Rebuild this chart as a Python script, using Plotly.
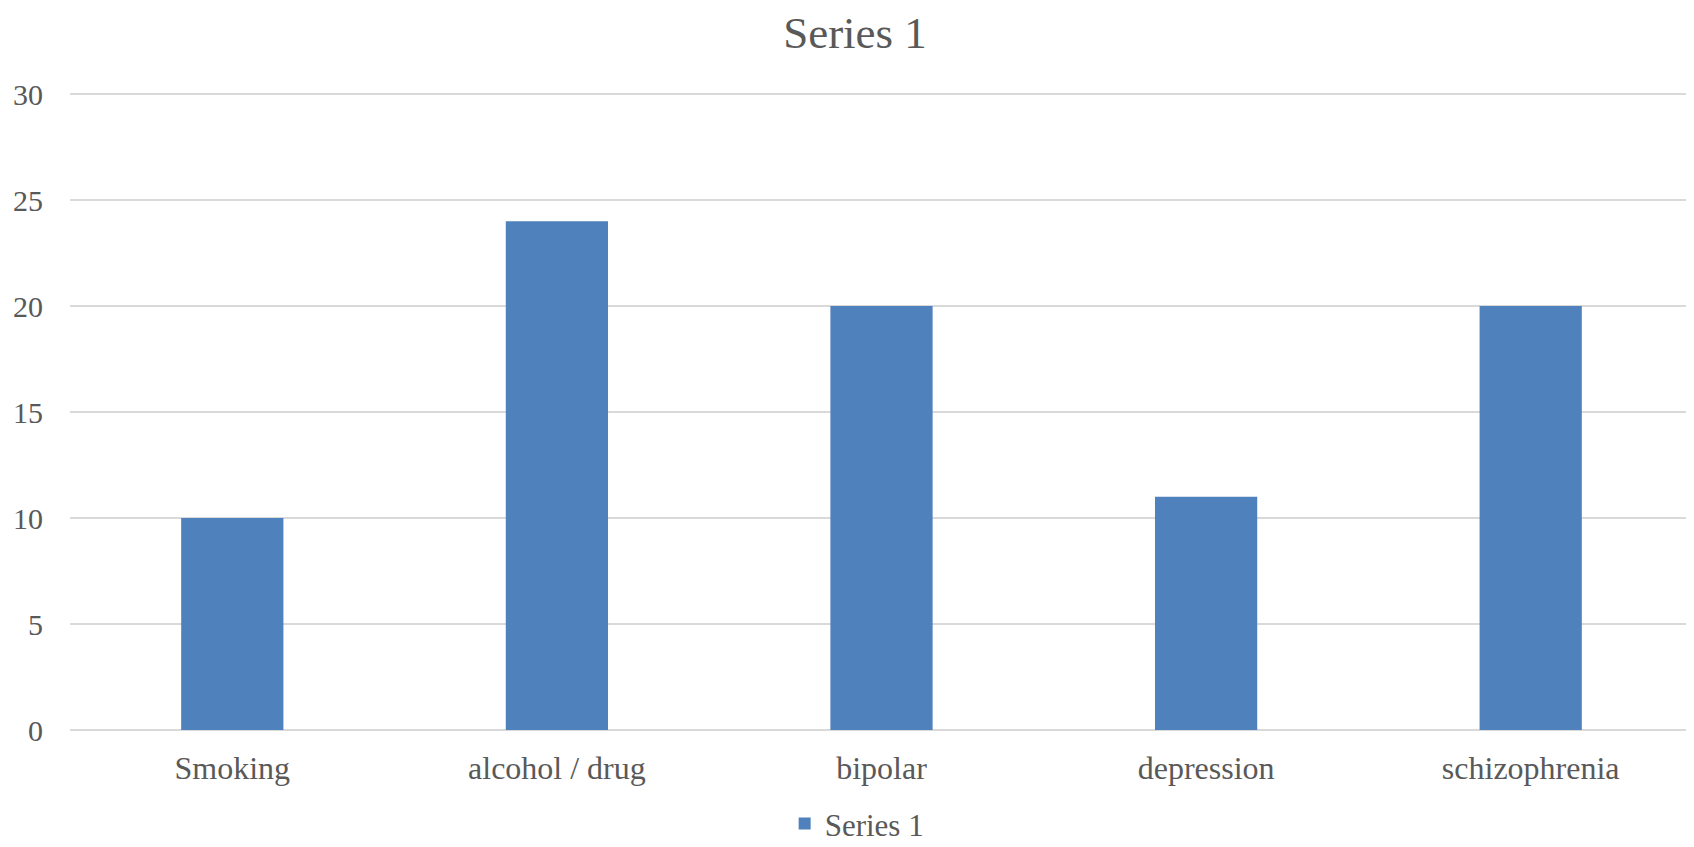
import plotly.graph_objects as go

categories = ["Smoking", "alcohol / drug", "bipolar", "depression", "schizophrenia"]
values = [10, 24, 20, 11, 20]
series_name = "Series 1"
tick_vals = [0, 5, 10, 15, 20, 25, 30]

fig = go.Figure()
fig.add_trace(go.Bar(
    x=categories, y=values, name=series_name,
    marker=dict(color="#4f81bd", line=dict(width=0)),
    width=0.315, showlegend=True,
))

font_family = "Liberation Serif, Times New Roman, serif"
fig.update_layout(
    width=1694, height=847,
    margin=dict(l=62, r=9, t=84, b=125, autoexpand=False),
    paper_bgcolor="white", plot_bgcolor="white",
    font=dict(family=font_family, color="#595959", size=30),
    title=dict(text="Series 1", x=0.5, xanchor="center", y=0.99, yanchor="top",
               font=dict(size=45, color="#595959", family=font_family)),
    legend=dict(orientation="h", x=0.485, xanchor="center", y=-0.147, yanchor="middle",
                font=dict(size=31, color="#595959")),
    showlegend=True,
)
fig.update_xaxes(showgrid=False, showline=False, ticks="", tickfont=dict(size=32), ticklabelstandoff=16)
fig.update_yaxes(range=[0, 30.1], tickvals=tick_vals, showgrid=True, gridcolor="#d9d9d9", gridwidth=2,
                 zeroline=True, zerolinecolor="#d9d9d9", zerolinewidth=2,
                 showline=False, ticks="", tickfont=dict(size=30), ticklabelstandoff=26)
fig.write_html("out.html")
